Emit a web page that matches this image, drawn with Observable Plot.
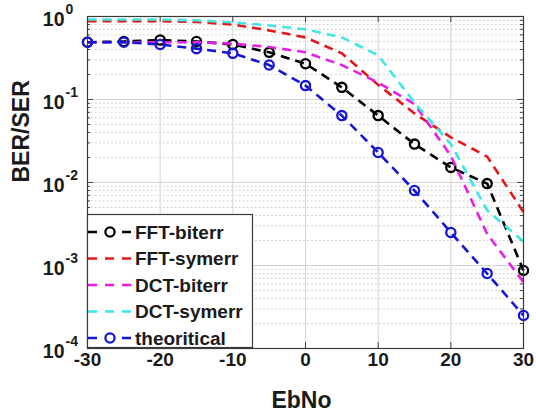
<!DOCTYPE html>
<html>
<head>
<meta charset="utf-8">
<script src="https://cdn.jsdelivr.net/npm/d3@7"></script>
<script src="https://cdn.jsdelivr.net/npm/@observablehq/plot@0.6"></script>
<style>
  html, body { margin: 0; padding: 0; background: #fff; }
  #chart svg { display: block; }
</style>
</head>
<body>
<div id="chart"></div>
<script>
// Eb/No sweep (dB)
const ebno = [-30, -25, -20, -15, -10, -5, 0, 5, 10, 15, 20, 25, 30];

// Error rates per scheme
const fftBiterr   = [0.49, 0.50, 0.52, 0.50, 0.46, 0.37, 0.27, 0.14, 0.064, 0.029, 0.0152, 0.0097, 0.00087];
const fftSymerr   = [0.88, 0.88, 0.88, 0.86, 0.80, 0.68, 0.56, 0.36, 0.15, 0.068, 0.035, 0.0205, 0.0044];
const dctBiterr   = [0.49, 0.49, 0.49, 0.49, 0.47, 0.43, 0.37, 0.26, 0.16, 0.088, 0.021, 0.0024, 0.00063];
const dctSymerr   = [0.92, 0.92, 0.92, 0.90, 0.85, 0.78, 0.70, 0.56, 0.34, 0.092, 0.029, 0.0046, 0.00195];
const theoretical = [0.49, 0.49, 0.46, 0.41, 0.36, 0.26, 0.147, 0.064, 0.023, 0.008, 0.0025, 0.0008, 0.00025];

// Series names, in drawing order
const seriesNames = ["FFT-biterr", "FFT-symerr", "DCT-biterr", "DCT-symerr", "theoritical"];
const seriesValues = [fftBiterr, fftSymerr, dctBiterr, dctSymerr, theoretical];
const seriesColors = ["#000000", "#e3171a", "#e61ee6", "#3fe6e6", "#1515d6"];
const seriesMarked = [true, false, false, false, true];

// Axis ticks
const xTicks = [-30, -20, -10, 0, 10, 20, 30];
const yMajor = [1e-4, 1e-3, 1e-2, 1e-1, 1];
const yMinor = [];
for (const decade of yMajor.slice(0, -1)) {
  for (let m = 2; m <= 9; m++) yMinor.push(m * decade);
}

const rows = seriesNames.flatMap((name, s) =>
  ebno.map((x, i) => ({ series: name, ebno: x, rate: seriesValues[s][i] }))
);

const font = "'Liberation Sans', Arial, Helvetica, sans-serif";
const ink = "#1a1a1a";

const lineMarks = seriesNames.flatMap((name, s) => {
  const data = rows.filter(d => d.series === name);
  const marks = [
    Plot.line(data, {
      x: "ebno", y: "rate",
      stroke: seriesColors[s], strokeWidth: 2.6,
      strokeDasharray: "9,6", strokeLinecap: "butt"
    })
  ];
  if (seriesMarked[s]) {
    marks.push(Plot.dot(data, {
      x: "ebno", y: "rate", r: 4.6,
      stroke: seriesColors[s], strokeWidth: 2.3, fill: "none"
    }));
  }
  return marks;
});

const svg = Plot.plot({
  width: 536,
  height: 414,
  marginLeft: 87,
  marginRight: 13,
  marginTop: 16,
  marginBottom: 66,
  style: { fontFamily: font, background: "#fff", color: ink },
  x: { domain: [-30, 30] },
  y: { type: "log", domain: [1e-4, 1] },
  marks: [
    // grid
    Plot.gridY(yMinor, { stroke: "#b8b8b8", strokeOpacity: 0.75, strokeDasharray: "1.5,2.5", strokeWidth: 1 }),
    Plot.gridY(yMajor, { stroke: "#d4d4d4", strokeOpacity: 1, strokeWidth: 1 }),
    Plot.gridX(xTicks, { stroke: "#d4d4d4", strokeOpacity: 1, strokeWidth: 1 }),

    // inward tick marks on all four sides
    Plot.ruleX(xTicks, { x: d => d, y1: 1e-4, y2: 1e-4, insetTop: -6, stroke: "#444", strokeWidth: 1 }),
    Plot.ruleX(xTicks, { x: d => d, y1: 1, y2: 1, insetBottom: -6, stroke: "#444", strokeWidth: 1 }),
    Plot.ruleY(yMajor, { y: d => d, x1: -30, x2: -30, insetRight: -6, stroke: "#444", strokeWidth: 1 }),
    Plot.ruleY(yMajor, { y: d => d, x1: 30, x2: 30, insetLeft: -6, stroke: "#444", strokeWidth: 1 }),
    Plot.ruleY(yMinor, { y: d => d, x1: -30, x2: -30, insetRight: -3, stroke: "#444", strokeWidth: 1 }),
    Plot.ruleY(yMinor, { y: d => d, x1: 30, x2: 30, insetLeft: -3, stroke: "#444", strokeWidth: 1 }),

    // data
    ...lineMarks,

    Plot.frame({ stroke: "#3a3a3a", strokeWidth: 1.2 }),

    // axes
    Plot.axisX(xTicks, {
      tickSize: 0, tickPadding: 4, label: null,
      tickFormat: d => String(d),
      fontSize: 19, fontWeight: "bold", fill: ink
    }),
    Plot.axisY(yMajor, {
      tickSize: 0, tickPadding: 23, label: null,
      tickFormat: () => "10", dy: 3,
      fontSize: 19.5, fontWeight: "bold", fill: ink
    }),
    Plot.axisY(yMajor, {
      tickSize: 0, tickPadding: 23, label: null, textAnchor: "start", dx: 1,
      tickFormat: d => String(Math.round(Math.log10(d))), dy: -7,
      fontSize: 14, fontWeight: "bold", fill: ink
    }),

    // axis titles
    Plot.text(["EbNo"], {
      frameAnchor: "bottom", dy: 52, dx: -4, text: d => d,
      fontSize: 23, fontWeight: "bold", fill: ink, lineAnchor: "middle"
    }),
    Plot.text(["BER/SER"], {
      frameAnchor: "left", dx: -66, text: d => d, rotate: -90,
      fontSize: 23, fontWeight: "bold", fill: ink, lineAnchor: "middle"
    })
  ]
});

// Legend box in the lower-left corner of the axes
const legend = d3.select(svg).append("g")
  .attr("class", "legend")
  .attr("text-anchor", "start");
legend.append("rect")
  .attr("x", 87.5).attr("y", 214.5)
  .attr("width", 165).attr("height", 133)
  .attr("fill", "#fff").attr("stroke", "#3a3a3a").attr("stroke-width", 1.2);

seriesNames.forEach((name, s) => {
  const cy = 232 + s * 26.5;
  const g = legend.append("g");
  g.append("line")
    .attr("x1", 88).attr("x2", 133).attr("y1", cy).attr("y2", cy)
    .attr("stroke", seriesColors[s]).attr("stroke-width", 2.6)
    .attr("stroke-dasharray", "9,8");
  if (seriesMarked[s]) {
    g.append("circle")
      .attr("cx", 110).attr("cy", cy).attr("r", 4.6)
      .attr("fill", "#fff").attr("stroke", seriesColors[s]).attr("stroke-width", 2.3);
  }
  g.append("text")
    .attr("x", 135).attr("y", cy).attr("dy", "0.35em")
    .attr("text-anchor", "start")
    .attr("font-family", font).attr("font-size", 19).attr("font-weight", "bold")
    .attr("fill", ink)
    .text(name);
});

document.getElementById("chart").appendChild(svg);
</script>
</body>
</html>
